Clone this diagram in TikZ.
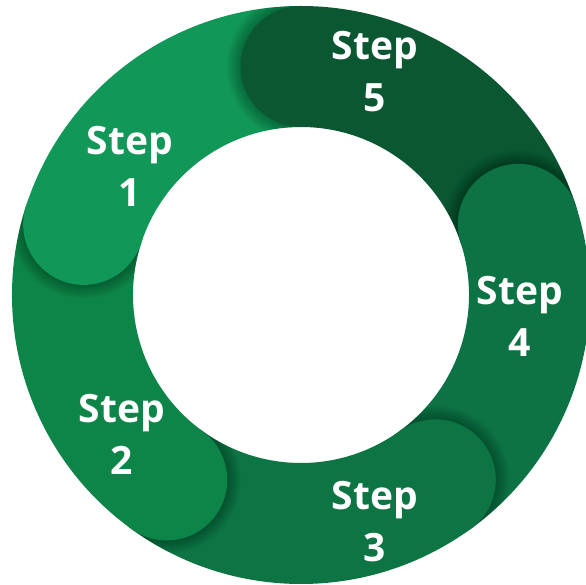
\documentclass[tikz,border=0pt]{standalone}
\usepackage{fontspec}
\setmainfont{Open Sans}
\usetikzlibrary{calc}
\definecolor{cone}{RGB}{17,151,87}
\definecolor{ctwo}{RGB}{14,133,72}
\definecolor{cthree}{RGB}{13,117,67}
\definecolor{cfour}{RGB}{13,115,68}
\definecolor{cfive}{RGB}{10,87,50}
\tikzset{
  lbl/.style={text=white, font=\fontsize{39}{52}\selectfont\bfseries, align=center, inner sep=0pt},
}
\begin{document}
\begin{tikzpicture}[x=1pt,y=1pt]
\clip (0,0) rectangle (586,584);
\fill[white] (0,0) rectangle (586,584);
\coordinate (c) at (301,289);
\def\Ro{289}
\def\Ri{168}
\def\Rm{228.5}
\def\Rc{60.5}
% ring sectors
\foreach \a/\col in {90/cone,162/ctwo,234/cthree,306/cfour,18/cfive}{
  \pgfmathsetmacro{\b}{\a+72}
  \fill[\col, shift={(c)}] (\a:\Ro) arc[start angle=\a, end angle=\b, radius=\Ro]
     -- (\b:\Ri) arc[start angle=\b, end angle=\a, radius=\Ri] -- cycle;
}
% caps with soft shadows
\foreach \e/\col/\nm in {162/cone/capone,234/ctwo/captwo,306/cthree/capthree,18/cfour/capfour,90/cfive/capfive}{
  \begin{scope}[even odd rule]
    \clip (c) circle (\Ro) (c) circle (\Ri);
    \clip (c) -- ($(c)+(\e:420)$) arc[start angle=\e, delta angle=50, radius=420] -- cycle;
    \foreach \i in {1,...,9}{
      \fill[black, opacity=0.032] ($(c)+(\e:\Rm)$) circle ({\Rc+1.5*\i});
    }
  \end{scope}
  \node[circle, fill=\col, minimum size={2*\Rc}, inner sep=0pt] (\nm) at ($(c)+(\e:\Rm)$) {};
}
\node[lbl] (s5) at (375,512.25) {Step\\5};
\node[lbl] (s1) at (130,417.5) {Step\\1};
\node[lbl] (s4) at (520,267.5) {Step\\4};
\node[lbl] (s2) at (122,150) {Step\\2};
\node[lbl] (s3) at (375,62) {Step\\3};
\end{tikzpicture}
\end{document}
